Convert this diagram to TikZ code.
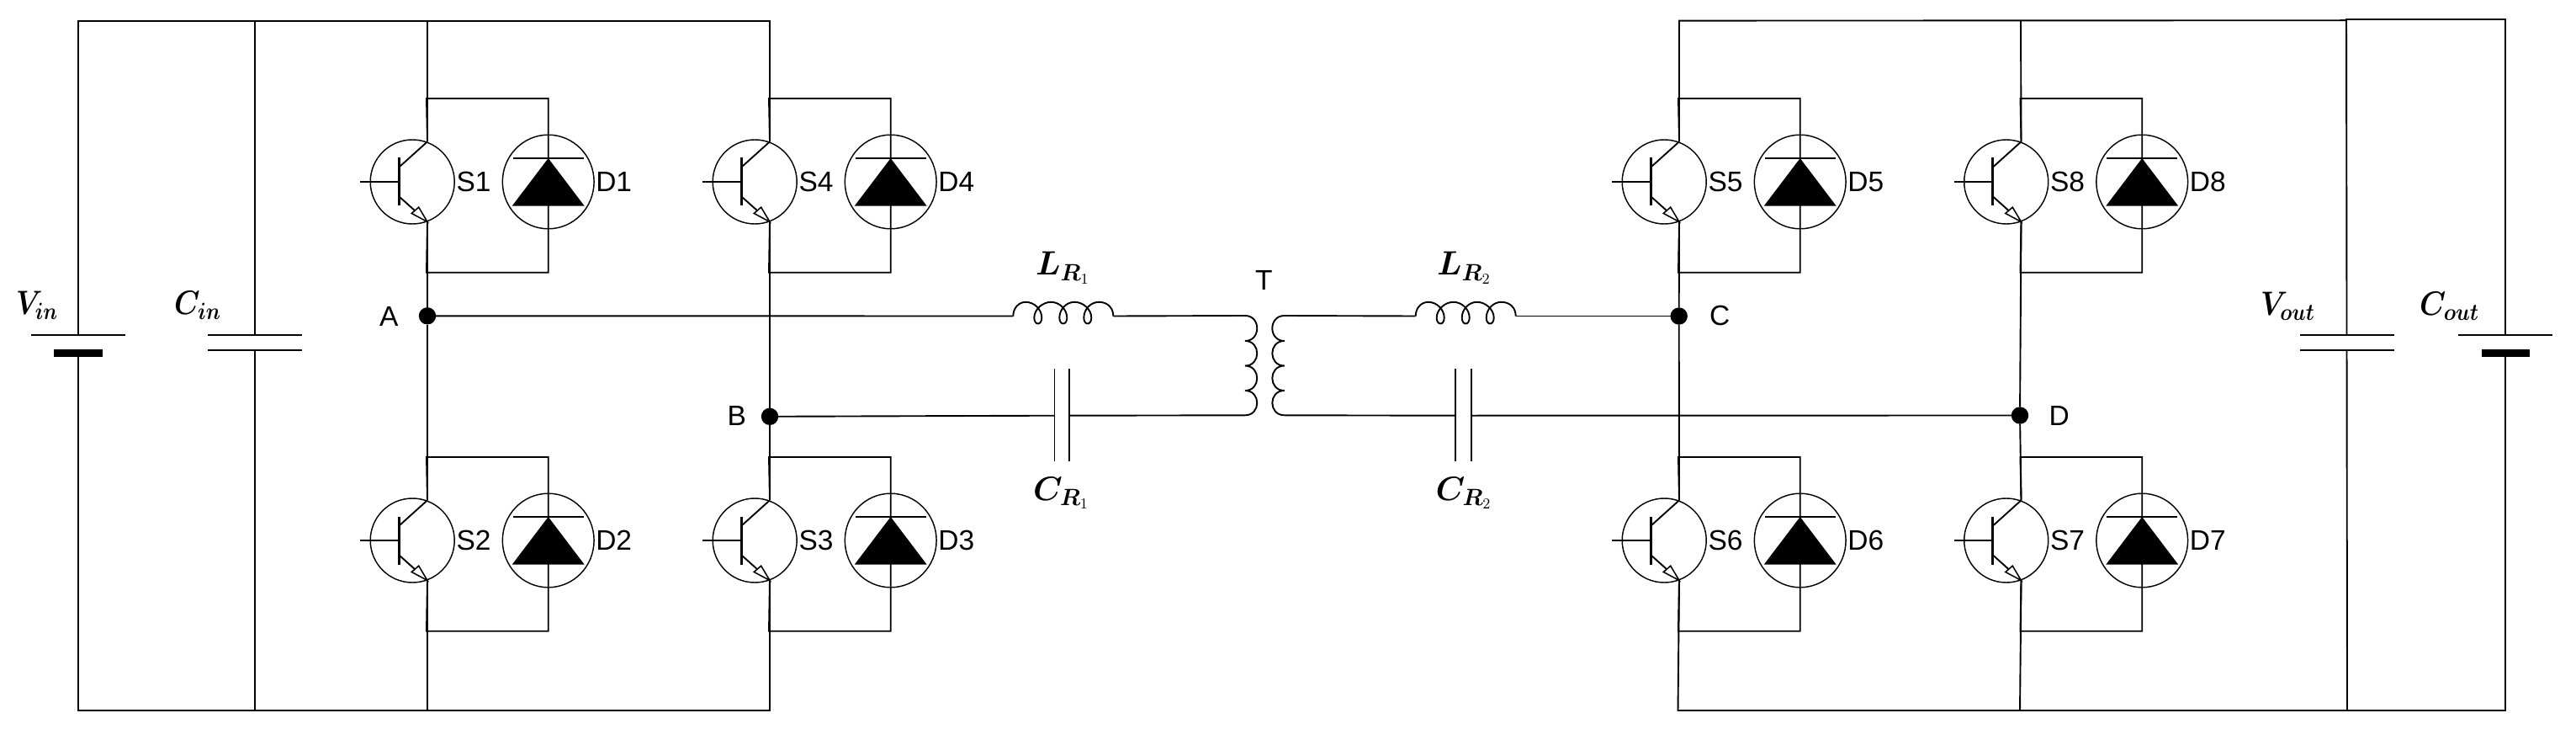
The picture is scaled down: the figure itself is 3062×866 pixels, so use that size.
\RequirePackage{fix-cm}
\documentclass[tikz,border=0pt]{standalone}
\usepackage[no-math]{fontspec}
\usepackage{graphicx}
\setmainfont{Liberation Sans}
\usetikzlibrary{shapes.geometric}
\tikzset{
  wire/.style={line width=0.95pt,line join=miter},
  thinw/.style={line width=0.78pt},
  barw/.style={line width=1.5pt},
  trcirc/.style={draw,circle,line width=0.72pt,minimum size=50pt,inner sep=0pt,outer sep=0pt},
  diocirc/.style={draw,ellipse,line width=0.72pt,minimum width=54.4pt,minimum height=55.8pt,inner sep=0pt,outer sep=0pt},
  junction/.style={fill=black,circle,minimum size=10.2pt,inner sep=0pt,outer sep=0pt},
  lab/.style={font=\fontsize{16.75}{20}\selectfont,inner sep=0pt,outer sep=0pt,anchor=base west},
  mlab/.style={font=\fontsize{20}{24}\selectfont\boldmath,inner sep=0pt,outer sep=0pt,anchor=base west},
}
\newcommand{\subdig}[1]{\mbox{\unboldmath\fontsize{9}{10}\selectfont$#1$}}
\newcommand{\narrowm}[2]{\scalebox{#1}[1]{#2}}
\newcommand{\swcell}[5]{%
\begin{scope}[shift={(#2,#3)}]
  \coordinate (#1c) at (0,-47.7);
  \coordinate (#1e) at (0,47.5);
  \coordinate (#1lt) at (-1,-99);
  \coordinate (#1lb) at (-1,107.7);
  \coordinate (#1dt) at (143.7,-99);
  \coordinate (#1db) at (143.7,107.7);
  \node[trcirc] (#1t) at (-17.8,0) {};
  \node[diocirc] (#1d) at (143.7,0) {};
  \draw[wire] (#1c) -- (#1lt) -- (#1dt) -- (#1db) -- (#1lb) -- (#1e);
  \draw[barw] (-34,-28.5) -- (-34,28.5);
  \draw[thinw] (-80,0) -- (-34,0);
  \draw[wire] (-33,-18) -- (#1c);
  \draw[wire] (-33,18) -- (#1e);
  \draw[thinw,fill=white] (#1e) -- ++(-10.3,-17.3) -- ++(-8.4,7.3) -- cycle;
  \draw[thinw] (101.7,-28) -- (185.7,-28);
  \fill (143.7,-28) -- (100.7,28.7) -- (186.7,28.7) -- cycle;
  \node[lab] (#1sl) at (34.6,11.5) {#4};
  \node[lab] (#1dl) at (200.3,11.5) {#5};
\end{scope}}
\newcommand{\inductor}[2]{%
\begin{scope}[shift={(#2)}]
  \draw[wire] (0,0) .. controls (0,-10) and (7,-16.7) .. (15,-16.7)
   .. controls (25,-16.7) and (34,-8) .. (34,2)
   .. controls (34,6) and (32,9) .. (29.5,9)
   .. controls (27,9) and (25,6) .. (25,2)
   .. controls (25,-8) and (35,-16.7) .. (45,-16.7)
   .. controls (55,-16.7) and (64,-8) .. (64,2)
   .. controls (64,6) and (62,9) .. (59.5,9)
   .. controls (57,9) and (55,6) .. (55,2)
   .. controls (55,-8) and (63,-16.7) .. (73,-16.7)
   .. controls (83,-16.7) and (93,-8) .. (93,2)
   .. controls (93,6) and (91,9) .. (88.5,9)
   .. controls (86,9) and (84,6) .. (84,2)
   .. controls (84,-8) and (92,-16.7) .. (102,-16.7)
   .. controls (112,-16.7) and (119,-10) .. (119,0);
  \coordinate (#1in) at (0,0);
  \coordinate (#1out) at (119,0);
\end{scope}}
\begin{document}
\begin{tikzpicture}[x=0.5pt,y=-0.5pt]
\useasboundingbox (0,0) rectangle (3062,866);

% switch and diode cells
\swcell{S1}{508}{216}{S1}{D1}
\swcell{S2}{508}{642}{S2}{D2}
\swcell{S4}{915}{216}{S4}{D4}
\swcell{S3}{915}{642}{S3}{D3}
\swcell{S5}{1996}{216}{S5}{D5}
\swcell{S6}{1996}{642}{S6}{D6}
\swcell{S8}{2402.5}{216}{S8}{D8}
\swcell{S7}{2402.5}{642}{S7}{D7}

% junctions
\node[junction] (A) at (508,375.3) {};
\node[junction] (B) at (915,494.8) {};
\node[junction] (C) at (1995.7,375.5) {};
\node[junction] (D) at (2401,493.5) {};

% rail corners
\coordinate (TL) at (93,24.7);
\coordinate (TCin) at (303,24.7);
\coordinate (TW1) at (508,24.7);
\coordinate (TW2) at (915,24.7);
\coordinate (BL) at (93,844);
\coordinate (BCin) at (303,844);
\coordinate (BW1) at (508,844);
\coordinate (BW2) at (915,844);
\coordinate (TW3) at (1996,24.6);
\coordinate (TW4) at (2402,24.2);
\coordinate (TVa) at (2789,24.2);
\coordinate (TVb) at (2789,23);
\coordinate (TCo) at (2978,23);
\coordinate (BW3) at (1994.5,844);
\coordinate (BW4) at (2401,844);
\coordinate (BVo) at (2790,844);
\coordinate (BCo) at (2978,844);

% source and capacitors on the left
\coordinate (BatP) at (93,398);
\coordinate (BatN) at (93,424);
\coordinate (CinP) at (303,398);
\coordinate (CinN) at (303,416);
\draw[wire] (37,398) -- (149,398);
\fill (64,415) rectangle (122,424);
\draw[wire] (247,398) -- (359,398);
\draw[wire] (247,416) -- (359,416);

% capacitors on the right
\coordinate (VoP) at (2789.5,398);
\coordinate (VoN) at (2789.5,416);
\coordinate (CoP) at (2978,398);
\coordinate (CoN) at (2978,424);
\draw[wire] (2733.5,398) -- (2846,398);
\draw[wire] (2733.5,416) -- (2846,416);
\draw[wire] (2922,398) -- (3034,398);
\fill (2950,415) rectangle (3007,424);

% rails
\draw[wire] (BatP) -- (TL) -- (TW2) -- (S4c);
\draw[wire] (BatN) -- (BL) -- (BW2) -- (S3e);
\draw[wire] (TCin) -- (CinP);
\draw[wire] (CinN) -- (BCin);
\draw[wire] (TW1) -- (S1c);
\draw[wire] (S1e) -- (A) -- (S2c);
\draw[wire] (S2e) -- (BW1);
\draw[wire] (S4e) -- (B) -- (S3c);
\draw[wire] (S5c) -- (TW3) -- (TVa) -- (TVb) -- (TCo) -- (CoP);
\draw[wire] (TW4) -- (S8c);
\draw[wire] (TVa) -- (VoP);
\draw[wire] (VoN) -- (BVo);
\draw[wire] (CoN) -- (BCo) -- (BW3) -- (S6e);
\draw[wire] (BW4) -- (S7e);
\draw[wire] (S5e) -- (C) -- (S6c);
\draw[wire] (S8e) -- (D) -- (S7c);

% resonant tank
\inductor{LA}{1204.3,375.5}
\inductor{LB}{1682.7,375.5}
\coordinate (CaL) at (1253.3,493.7);
\coordinate (CaR) at (1271,493.7);
\coordinate (CbL) at (1729.8,493.7);
\coordinate (CbR) at (1748.7,493.7);
\draw[thinw] (1253.3,438.3) -- (1253.3,548.3);
\draw[thinw] (1271,438.3) -- (1271,548.3);
\draw[thinw] (1729.8,438.3) -- (1729.8,548.3);
\draw[thinw] (1748.7,438.3) -- (1748.7,548.3);

% transformer
\coordinate (PrA) at (1480,375);
\coordinate (PrB) at (1480,493.3);
\coordinate (SeA) at (1526.7,375);
\coordinate (SeB) at (1526.7,493.3);
\draw[wire] (PrA) .. controls (1499,375) and (1499,405) .. (1480,405)
  .. controls (1499,405) and (1499,434.5) .. (1480,434.5)
  .. controls (1499,434.5) and (1499,464) .. (1480,464)
  .. controls (1499,464) and (1499,493.3) .. (PrB);
\draw[wire] (SeA) .. controls (1507.5,375) and (1507.5,405) .. (1526.7,405)
  .. controls (1507.5,405) and (1507.5,434.5) .. (1526.7,434.5)
  .. controls (1507.5,434.5) and (1507.5,464) .. (1526.7,464)
  .. controls (1507.5,464) and (1507.5,493.3) .. (SeB);

\draw[wire] (A) -- (LAin);
\draw[wire] (LAout) -- (PrA);
\draw[wire] (SeA) -- (LBin);
\draw[wire] (LBout) -- (C);
\draw[wire] (B) -- (CaL);
\draw[wire] (CaR) -- (PrB);
\draw[wire] (SeB) -- (CbL);
\draw[wire] (CbR) -- (D);

% labels
\node[lab] (lA) at (451,387) {A};
\node[lab] (lB) at (864.5,505.7) {B};
\node[lab] (lC) at (2032,386.7) {C};
\node[lab] (lD) at (2435.5,505.5) {D};
\node[lab] (lT) at (1492,344) {T};
\node[mlab] (lVin) at (19,373) {\narrowm{0.84}{$V_{in}$}};
\node[mlab] (lCin) at (207,373) {\narrowm{0.86}{$C_{in}$}};
\node[mlab] (lVo) at (2687,374) {\narrowm{0.86}{$V_{out}$}};
\node[mlab] (lCo) at (2876,374) {\narrowm{0.88}{$C_{out}$}};
\node[mlab] (lLa) at (1231,327) {\narrowm{0.98}{$L_{R_{\subdig{1}}}$}};
\node[mlab] (lLb) at (1708,327) {\narrowm{0.98}{$L_{R_{\subdig{2}}}$}};
\node[mlab] (lCa) at (1228,594) {\narrowm{0.98}{$C_{R_{\subdig{1}}}$}};
\node[mlab] (lCb) at (1706.5,594) {\narrowm{0.98}{$C_{R_{\subdig{2}}}$}};
\end{tikzpicture}
\end{document}
